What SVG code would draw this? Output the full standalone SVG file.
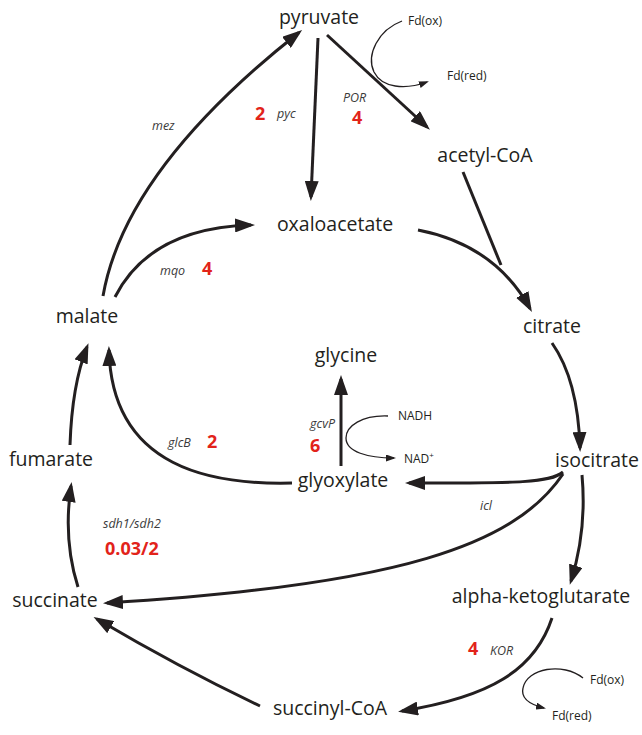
<svg xmlns="http://www.w3.org/2000/svg" width="642" height="735" viewBox="0 0 642 735">
<defs>
<style>
.node{font-family:"Open Sans","Liberation Sans",sans-serif;font-size:19.5px;fill:#231f20;text-anchor:middle}
.enz{font-family:"Open Sans","Liberation Sans",sans-serif;font-size:12.5px;font-style:italic;fill:#3a3a3a}
.num{font-family:"Open Sans","Liberation Sans",sans-serif;font-size:18px;font-weight:bold;fill:#e2231a}
.sm{font-family:"Open Sans","Liberation Sans",sans-serif;font-size:12px;fill:#231f20}
.c{fill:none;stroke:#231f20;stroke-width:3}
.t{fill:none;stroke:#231f20;stroke-width:1.3}
</style>
<marker id="ah" markerUnits="userSpaceOnUse" markerWidth="20" markerHeight="14" refX="16" refY="7" orient="auto">
<path d="M0,0 L20,7 L0,14 z" fill="#231f20"/>
</marker>
<marker id="as" markerUnits="userSpaceOnUse" markerWidth="10" markerHeight="7" refX="8" refY="3.5" orient="auto">
<path d="M0,0 L10,3.5 L0,7 z" fill="#231f20"/>
</marker>
</defs>
<rect width="642" height="735" fill="#ffffff"/>
<g id="connectors">
<path class="c" d="M103,296 Q125,170 299,32.5" marker-end="url(#ah)"/>
<path class="c" d="M115,297 Q150,228 251,225" marker-end="url(#ah)"/>
<path class="c" d="M318,38 L311,197" marker-end="url(#ah)"/>
<path class="c" d="M327,35 L427,127" marker-end="url(#ah)"/>
<path class="t" d="M402,21 C378,30 366,55 374,72 C382,88 405,90 427,82" marker-end="url(#as)"/>
<path class="c" d="M418,230 Q495,245 530,308.5" marker-end="url(#ah)"/>
<path class="c" d="M463,172 L501,265"/>
<path class="c" d="M552,343 Q578,380 580,448" marker-end="url(#ah)"/>
<path class="c" d="M563,472 C550,483 520,483 409,483" marker-end="url(#ah)"/>
<path class="c" d="M563,474 C515,545 400,585 107,603" marker-end="url(#ah)"/>
<path class="c" d="M582,475 Q587,530 571,581" marker-end="url(#ah)"/>
<path class="c" d="M552,618 C535,670 490,697 402,711" marker-end="url(#ah)"/>
<path class="t" d="M583,678 C563,662 527,668 523,688 C520,700 532,705 544,708" marker-end="url(#as)"/>
<path class="c" d="M260,706 Q180,668 97,619" marker-end="url(#ah)"/>
<path class="c" d="M78,587 Q63,540 71,486" marker-end="url(#ah)"/>
<path class="c" d="M70,445 Q72,385 87,347" marker-end="url(#ah)"/>
<path class="c" d="M292,483 C215,485 112,470 109,350" marker-end="url(#ah)"/>
<path class="c" d="M341,466 L341,379" marker-end="url(#ah)"/>
<path class="t" d="M388,416 C362,415 346,426 346,438 C346,452 368,458 394,458" marker-end="url(#as)"/>
</g>
<g id="pyruvate"><text class="node" x="319" y="24">pyruvate</text></g>
<g id="acetyl-coa"><text class="node" x="485" y="162">acetyl-CoA</text></g>
<g id="oxaloacetate"><text class="node" x="335" y="231">oxaloacetate</text></g>
<g id="citrate"><text class="node" x="552" y="333">citrate</text></g>
<g id="malate"><text class="node" x="87" y="323">malate</text></g>
<g id="glycine"><text class="node" x="346" y="362">glycine</text></g>
<g id="isocitrate"><text class="node" x="597" y="467">isocitrate</text></g>
<g id="fumarate"><text class="node" x="51" y="466">fumarate</text></g>
<g id="glyoxylate"><text class="node" x="343" y="487">glyoxylate</text></g>
<g id="alpha-ketoglutarate"><text class="node" x="541" y="603">alpha-ketoglutarate</text></g>
<g id="succinate"><text class="node" x="55" y="607">succinate</text></g>
<g id="succinyl-coa"><text class="node" x="330" y="715">succinyl-CoA</text></g>
<g id="labels">
<text class="sm" x="408" y="25">Fd(ox)</text>
<text class="sm" x="447" y="80">Fd(red)</text>
<text class="enz" x="152" y="130">mez</text>
<text class="num" x="255" y="120">2</text>
<text class="enz" x="277" y="118">pyc</text>
<text class="enz" x="343" y="102">POR</text>
<text class="num" x="352" y="124">4</text>
<text class="enz" x="160" y="275">mqo</text>
<text class="num" x="202" y="275">4</text>
<text class="sm" x="398" y="420">NADH</text>
<text class="enz" x="310" y="428">gcvP</text>
<text class="num" x="310" y="452">6</text>
<text class="sm" x="404" y="463">NAD<tspan dy="-5" font-size="8">+</tspan></text>
<text class="enz" x="168" y="447">glcB</text>
<text class="num" x="207" y="448">2</text>
<text class="enz" x="480" y="510">icl</text>
<text class="enz" x="103" y="528">sdh1/sdh2</text>
<text class="num" x="105" y="555">0.03/2</text>
<text class="num" x="468" y="655">4</text>
<text class="enz" x="490" y="655">KOR</text>
<text class="sm" x="590" y="684">Fd(ox)</text>
<text class="sm" x="552" y="720">Fd(red)</text>
</g>
</svg>
